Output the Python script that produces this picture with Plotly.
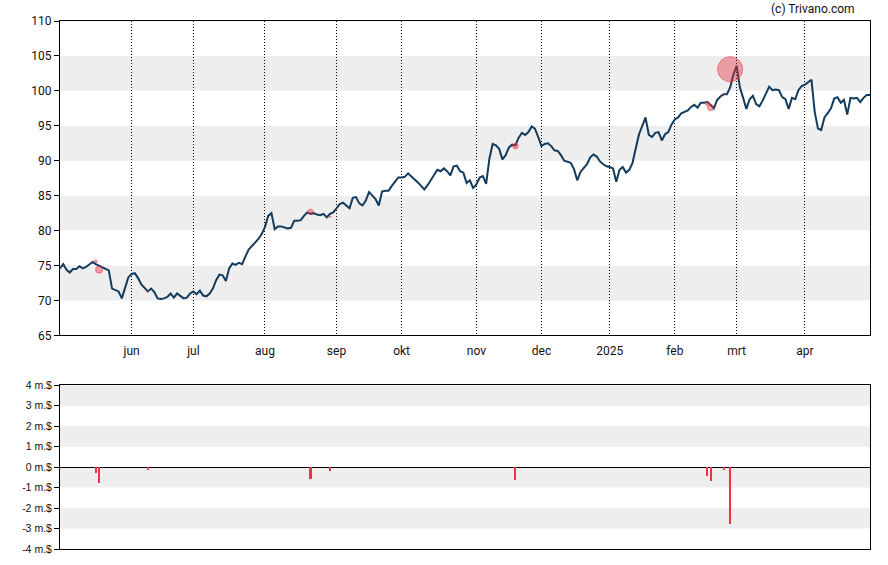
import pandas as pd
import plotly.graph_objects as go

# trading days (US market calendar) shown on the category axis
holidays = ["2024-05-27", "2024-06-19", "2024-07-04", "2024-09-02", "2024-11-28",
            "2024-12-25", "2025-01-01", "2025-01-09", "2025-01-20", "2025-02-17", "2025-04-18"]
dates = [d.strftime("%Y-%m-%d") for d in
         pd.bdate_range("2024-05-01", "2025-04-30", freq="C", holidays=holidays)]

prices = [
    74.6, 75.2, 74.4, 74.0, 74.5, 74.5, 74.9, 74.6, 74.8, 75.1,
    75.5, 75.2, 75.0, 74.7, 74.6, 74.3, 71.7, 71.5, 71.3, 70.3,
    71.9, 73.3, 73.8, 73.9, 73.2, 72.3, 71.8, 71.3, 71.7, 71.2,
    70.3, 70.2, 70.3, 70.5, 71.0, 70.4, 71.0, 70.6, 70.3, 70.4,
    71.0, 71.3, 70.9, 71.4, 70.7, 70.6, 71.0, 71.7, 72.9, 73.7,
    73.6, 72.8, 74.6, 75.3, 75.1, 75.4, 75.2, 76.3, 77.3, 77.8,
    78.3, 78.8, 79.5, 80.5, 82.1, 82.5, 80.2, 80.6, 80.6, 80.4,
    80.3, 80.4, 81.4, 81.4, 81.5, 82.1, 82.6, 82.4, 82.5, 82.3,
    82.2, 82.4, 81.9, 82.4, 82.6, 83.2, 83.8, 84.0, 83.6, 83.2,
    84.7, 84.8, 83.9, 83.6, 84.3, 85.5, 85.0, 84.5, 83.6, 85.6,
    85.7, 85.7, 86.4, 87.0, 87.6, 87.6, 87.7, 88.2, 87.8, 87.3,
    86.9, 86.4, 85.9, 86.5, 87.3, 88.0, 88.7, 88.5, 88.9, 88.5,
    87.9, 89.2, 89.3, 88.5, 88.3, 86.8, 87.2, 86.1, 86.6, 87.6,
    87.8, 86.7, 90.3, 92.4, 92.2, 91.7, 90.2, 90.8, 91.9, 92.3,
    92.2, 93.3, 94.0, 93.7, 94.1, 94.9, 94.6, 93.4, 92.1, 92.4,
    92.5, 92.1, 91.5, 91.4, 90.8, 90.0, 89.9, 89.7, 88.8, 87.2,
    88.4, 89.0, 89.5, 90.5, 90.9, 90.6, 89.9, 89.5, 89.2, 89.1,
    88.9, 87.0, 88.7, 89.1, 88.3, 88.7, 89.7, 91.8, 93.8, 95.0,
    96.2, 93.7, 93.4, 94.0, 94.1, 92.9, 93.8, 94.1, 95.2, 95.9,
    96.2, 96.8, 97.0, 97.2, 97.7, 98.0, 97.6, 98.3, 98.3, 98.4,
    98.0, 97.5, 98.7, 99.2, 99.5, 99.5, 100.5, 102.3, 103.6, 100.5,
    99.0, 97.4, 98.8, 99.3, 98.1, 97.8, 98.6, 99.6, 100.6, 100.1,
    100.2, 100.1, 99.1, 98.8, 97.4, 99.0, 98.8, 100.1, 100.7, 100.9,
    101.3, 101.6, 97.0, 94.6, 94.4, 96.2, 96.8, 97.5, 98.9, 99.1,
    98.3, 98.7, 96.6, 99.0, 98.9, 99.0, 98.4, 99.0, 99.4, 99.4,
]

# insider transactions
trade_dates = ["2024-05-16", "2024-05-17", "2024-06-10", "2024-08-21", "2024-08-29",
               "2024-11-19", "2025-02-18", "2025-02-19", "2025-02-25", "2025-02-27"]
trade_values = [-0.31, -0.77, -0.13, -0.57, -0.18, -0.62, -0.47, -0.67, -0.13, -2.78]  # m.$
trade_prices = [75.6, 74.4, 71.3, 82.7, 82.0, 92.1, 98.2, 97.6, 99.5, 103.1]

month_ticks = ["2024-06-03", "2024-07-01", "2024-08-01", "2024-09-03", "2024-10-01", "2024-11-01",
               "2024-12-02", "2025-01-02", "2025-02-03", "2025-03-03", "2025-04-01"]
month_labels = ["jun", "jul", "aug", "sep", "okt", "nov", "dec", "2025", "feb", "mrt", "apr"]

price_ticks = [65, 70, 75, 80, 85, 90, 95, 100, 105, 110]
price_bands = [70, 80, 90, 100]
volume_ticks = [-4, -3, -2, -1, 0, 1, 2, 3, 4]
volume_labels = [f"{v} m.$" for v in volume_ticks]
volume_bands = [3, 1, -1, -3]

LINE = "#123b5c"
RED = "#ee3344"
BAND = "#eeeeee"

fig = go.Figure()
fig.add_trace(go.Scatter(x=dates[:len(prices)], y=prices, mode="lines",
                         line=dict(color=LINE, width=2), xaxis="x", yaxis="y",
                         hoverinfo="skip", showlegend=False))
fig.add_trace(go.Scatter(x=trade_dates, y=trade_prices, mode="markers",
                         marker=dict(size=[max(1.5, abs(v) * 9) for v in trade_values],
                                     color="rgba(232,48,64,0.6)",
                                     line=dict(color="rgba(232,48,64,0.9)", width=1)),
                         xaxis="x", yaxis="y", showlegend=False))
fig.add_trace(go.Bar(x=trade_dates, y=trade_values, marker=dict(color=RED, line=dict(width=0)),
                     width=0.65, xaxis="x2", yaxis="y2", showlegend=False))

shapes = []
for lo in price_bands:
    shapes.append(dict(type="rect", xref="x domain", yref="y", x0=0, x1=1, y0=lo, y1=lo + 5,
                       fillcolor=BAND, line=dict(width=0), layer="below"))
for lo in volume_bands:
    shapes.append(dict(type="rect", xref="x2 domain", yref="y2", x0=0, x1=1, y0=lo, y1=lo + 1,
                       fillcolor=BAND, line=dict(width=0), layer="below"))

axis_common = dict(showline=True, linecolor="black", linewidth=1, mirror=True, automargin=False)

fig.update_layout(
    width=888, height=565,
    margin=dict(l=60, r=18, t=20.5, b=16),
    paper_bgcolor="white", plot_bgcolor="white",
    font=dict(family="Roboto", size=12, color="#111111"),
    shapes=shapes,
    bargap=0,
    xaxis=dict(type="category", categoryorder="array", categoryarray=dates,
               range=[0, len(dates) - 1], domain=[0, 1], anchor="y",
               tickmode="array", tickvals=month_ticks, ticktext=month_labels,
               ticks="outside", ticklen=4, tickcolor="rgba(0,0,0,0)",
               showgrid=True, gridcolor="black", gridwidth=1, griddash="1px,2px",
               tickfont=dict(family="Roboto", size=12), **axis_common),
    yaxis=dict(domain=[0.4045, 1.0], range=[65, 110], tickmode="array", tickvals=price_ticks,
               ticks="outside", ticklen=5, tickcolor="black", showgrid=False, zeroline=False,
               tickfont=dict(family="Roboto", size=12), **axis_common),
    xaxis2=dict(type="category", categoryorder="array", categoryarray=dates, matches="x",
                range=[0, len(dates) - 1], domain=[0, 1], anchor="y2",
                showticklabels=False, ticks="", showgrid=False, **axis_common),
    yaxis2=dict(domain=[0, 0.31], range=[-4, 4], tickmode="array", tickvals=volume_ticks,
                ticktext=volume_labels, ticks="outside", ticklen=5, tickcolor="black",
                showgrid=False, zeroline=True, zerolinecolor="black", zerolinewidth=1,
                tickfont=dict(family="Liberation Sans", size=10.5), **axis_common),
    annotations=[dict(text="(c) Trivano.com", xref="paper", yref="paper", x=0.984, y=1.0227,
                      xanchor="right", yanchor="middle", showarrow=False,
                      font=dict(family="Roboto", size=12, color="#111111"))],
)

# the page is photographed at the window origin: drop the browser's default body margin
fig.write_html("out.html", config={"displayModeBar": False},
               post_script="document.body.style.margin='0';")
